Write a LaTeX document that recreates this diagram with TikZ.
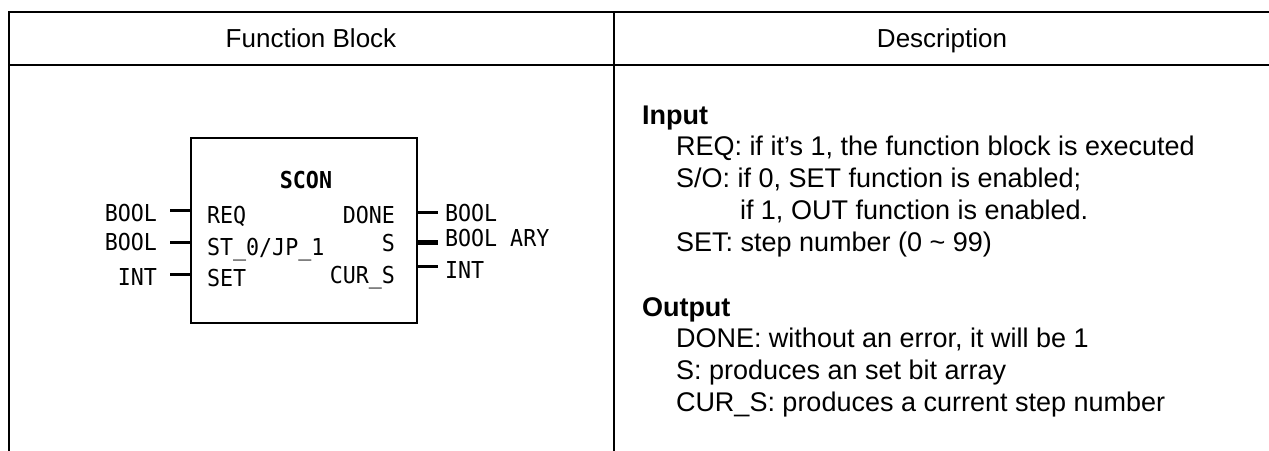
\documentclass[tikz,border=0pt]{standalone}
\usepackage{fontspec}
\setmainfont{Liberation Sans}
\newfontfamily\pinfont[FakeStretch=0.93]{DejaVu Sans Mono}
\usetikzlibrary{positioning}

\begin{document}
\begin{tikzpicture}[
  x=1bp, y=-1bp,
  every node/.style={inner sep=0pt, outer sep=0pt},
  head/.style={font=\fontsize{26bp}{30bp}\selectfont, anchor=base},
  desc/.style={font=\fontsize{27bp}{32bp}\selectfont, anchor=base west},
  deschead/.style={desc, font=\fontsize{27bp}{32bp}\selectfont\bfseries},
  pin/.style={font=\pinfont\fontsize{23.3bp}{26bp}\selectfont},
  rule/.style={line width=2bp},
  stub/.style={line width=3bp}
]
  \useasboundingbox (0,0) rectangle (1269,451);
  \draw[rule] (8.7,451) -- (8.7,12) -- (1269,12);
  \draw[rule] (8.7,65) -- (1269,65);
  \draw[rule] (614,12) -- (614,451);

  \node[head] (hfb)   at (311,48) {Function Block};
  \node[head] (hdesc) at (942,48) {Description};

  \node[draw, line width=2bp, minimum width=226bp, minimum height=185bp] (blk) at (304,230.5) {};
  \node[pin, anchor=base, font=\pinfont\fontsize{23.3bp}{26bp}\selectfont\bfseries] (name) at (306,188.5) {SCON};

  \node[pin, anchor=base west] (req)  at (207,223.5) {REQ};
  \node[pin, anchor=base west] (so)   at (207,255.5) {ST\_0/JP\_1};
  \node[pin, anchor=base west] (set)  at (207,286.5) {SET};
  \node[pin, anchor=base east] (done) at (395,223.5) {DONE};
  \node[pin, anchor=base east] (s)    at (395,251.5) {S};
  \node[pin, anchor=base east] (curs) at (395,283.5) {CUR\_S};

  \node[pin, anchor=base east] (reqt)  at (157,221.5) {BOOL};
  \node[pin, anchor=base east] (sot)   at (157,250.5) {BOOL};
  \node[pin, anchor=base east] (sett)  at (157,285.5) {INT};
  \node[pin, anchor=base west] (donet) at (445,221.5) {BOOL};
  \node[pin, anchor=base west] (st)    at (445,246.5) {BOOL ARY};
  \node[pin, anchor=base west] (curst) at (445,278.5) {INT};

  \coordinate (reqp)  at (170,211);
  \coordinate (sop)   at (170,243);
  \coordinate (setp)  at (170,275);
  \coordinate (donep) at (438,213);
  \coordinate (sp)    at (438,243);
  \coordinate (cursp) at (438,267);
  \draw[stub] (reqp)  -- (reqp -| blk.west);
  \draw[stub] (sop)   -- (sop -| blk.west);
  \draw[stub] (setp)  -- (setp -| blk.west);
  \draw[stub] (blk.east |- donep) -- (donep);
  \draw[stub, line width=5bp] (blk.east |- sp) -- (sp);
  \draw[stub] (blk.east |- cursp) -- (cursp);

  \node[deschead] (inhd)  at (642,125) {Input};
  \node[desc]     (reqd)  at (676,156) {REQ: if it’s 1, the function block is executed};
  \node[desc]     (sod)   at (676,188) {S/O: if 0, SET function is enabled;};
  \node[desc]     (sod2)  at (740,220) {if 1, OUT function is enabled.};
  \node[desc]     (setd)  at (676,252) {SET: step number (0 \textasciitilde{} 99)};
  \node[deschead] (outhd) at (642,317) {Output};
  \node[desc]     (doned) at (676,348) {DONE: without an error, it will be 1};
  \node[desc]     (sd)    at (676,380) {S: produces an set bit array};
  \node[desc]     (cursd) at (676,412) {CUR\_S: produces a current step number};
\end{tikzpicture}
\end{document}
